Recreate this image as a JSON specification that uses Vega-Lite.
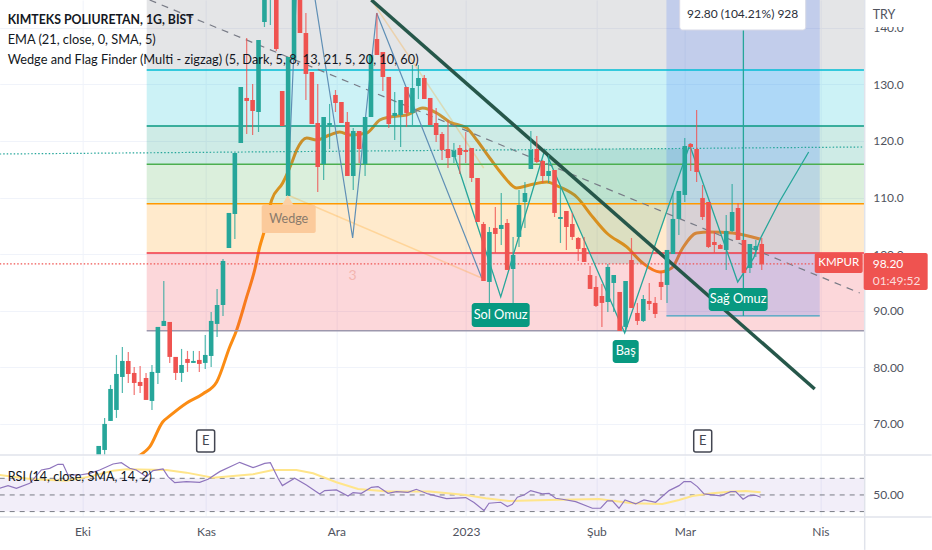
{
  "$schema": "https://vega.github.io/schema/vega-lite/v6.json",
  "padding": {"left": -4.3, "top": -1, "right": 0, "bottom": 0},
  "spacing": -1,
  "background": "white",
  "config": {
    "view": {"stroke": null},
    "text": {"font": "Lato"},
    "axis": {"labelFont": "Lato"}
  },
  "datasets": {
    "candles": [
      {"bar":0,"open":64.51,"high":66.1,"low":64.51,"close":66.1},
      {"bar":1,"open":65.39,"high":71.05,"low":64.33,"close":69.99},
      {"bar":2,"open":70.52,"high":76.88,"low":70.52,"close":76.17},
      {"bar":3,"open":72.46,"high":82.18,"low":71.05,"close":78.82},
      {"bar":4,"open":78.29,"high":83.59,"low":75.46,"close":81.12},
      {"bar":5,"open":81.12,"high":82.71,"low":77.23,"close":78.82},
      {"bar":6,"open":79.0,"high":80.06,"low":75.11,"close":77.23},
      {"bar":7,"open":77.41,"high":80.24,"low":75.46,"close":76.7},
      {"bar":8,"open":78.11,"high":79.0,"low":74.23,"close":74.23},
      {"bar":9,"open":74.05,"high":80.41,"low":72.46,"close":79.18},
      {"bar":10,"open":79.0,"high":87.13,"low":77.05,"close":87.13},
      {"bar":11,"open":87.3,"high":95.25,"low":87.3,"close":88.19},
      {"bar":12,"open":88.01,"high":88.01,"low":80.77,"close":81.83},
      {"bar":13,"open":81.83,"high":81.83,"low":77.76,"close":79.0},
      {"bar":14,"open":79.0,"high":83.24,"low":77.41,"close":80.41},
      {"bar":15,"open":81.47,"high":82.89,"low":79.18,"close":80.77},
      {"bar":16,"open":80.77,"high":82.89,"low":80.77,"close":81.12},
      {"bar":17,"open":81.3,"high":82.89,"low":79.18,"close":80.59},
      {"bar":18,"open":80.77,"high":85.71,"low":79.71,"close":82.18},
      {"bar":19,"open":82.0,"high":89.78,"low":80.06,"close":88.19},
      {"bar":20,"open":87.66,"high":93.84,"low":85.36,"close":91.01},
      {"bar":21,"open":91.01,"high":99.14,"low":89.07,"close":98.79},
      {"bar":22,"open":101.08,"high":107.27,"low":101.08,"close":107.27},
      {"bar":23,"open":107.09,"high":117.87,"low":102.67,"close":117.87},
      {"bar":24,"open":119.63,"high":129.53,"low":119.63,"close":129.53},
      {"bar":25,"open":127.59,"high":138.19,"low":121.22,"close":127.06},
      {"bar":26,"open":127.23,"high":130.06,"low":121.05,"close":125.29},
      {"bar":27,"open":125.11,"high":137.83,"low":121.58,"close":137.83},
      {"bar":28,"open":141.01,"high":147,"low":140.13,"close":146.67},
      {"bar":29,"open":146,"high":150.5,"low":140.48,"close":150},
      {"bar":30,"open":148,"high":149,"low":135.9,"close":136.24},
      {"bar":31,"open":128.82,"high":128.82,"low":122.64,"close":122.64},
      {"bar":32,"open":110.27,"high":134.83,"low":110.27,"close":134.83},
      {"bar":33,"open":134.3,"high":151,"low":134.3,"close":150},
      {"bar":34,"open":150,"high":151,"low":139.07,"close":139.07},
      {"bar":35,"open":139.07,"high":142.6,"low":127.23,"close":131.83},
      {"bar":36,"open":132.18,"high":132.18,"low":122.99,"close":122.99},
      {"bar":37,"open":123.17,"high":130.06,"low":110.98,"close":115.39},
      {"bar":38,"open":115.92,"high":124.23,"low":113.1,"close":124.23},
      {"bar":39,"open":122.81,"high":126.53,"low":118.57,"close":123.17},
      {"bar":40,"open":128.12,"high":129.0,"low":125.11,"close":126.7},
      {"bar":41,"open":126.88,"high":126.88,"low":123.17,"close":123.17},
      {"bar":42,"open":123.35,"high":125.11,"low":113.8,"close":113.8},
      {"bar":43,"open":113.8,"high":122.3,"low":111.33,"close":121.75},
      {"bar":44,"open":121.75,"high":121.75,"low":116.1,"close":118.57},
      {"bar":45,"open":115.92,"high":124.23,"low":113.8,"close":124.23},
      {"bar":46,"open":124.23,"high":135.18,"low":124.23,"close":135.18},
      {"bar":47,"open":138.01,"high":142.6,"low":135.18,"close":135.18},
      {"bar":48,"open":135.71,"high":135.71,"low":128.82,"close":131.3},
      {"bar":49,"open":131.3,"high":131.3,"low":122.28,"close":122.99},
      {"bar":50,"open":124.41,"high":128.65,"low":120.16,"close":124.94},
      {"bar":51,"open":124.58,"high":127.23,"low":118.93,"close":127.23},
      {"bar":52,"open":129.53,"high":129.53,"low":122.46,"close":124.94},
      {"bar":53,"open":124.94,"high":133.42,"low":122.81,"close":129.35},
      {"bar":54,"open":129.71,"high":133.42,"low":127.41,"close":131.12},
      {"bar":55,"open":131.12,"high":131.65,"low":127.41,"close":127.41},
      {"bar":56,"open":127.59,"high":127.59,"low":122.81,"close":122.81},
      {"bar":57,"open":123.17,"high":125.82,"low":119.81,"close":121.05},
      {"bar":58,"open":121.22,"high":121.58,"low":116.63,"close":118.4},
      {"bar":59,"open":118.57,"high":123.7,"low":115.22,"close":116.98},
      {"bar":60,"open":117.16,"high":119.63,"low":116.1,"close":118.22},
      {"bar":61,"open":118.75,"high":119.28,"low":114.16,"close":117.51},
      {"bar":62,"open":118.4,"high":121.58,"low":116.1,"close":118.04},
      {"bar":63,"open":118.75,"high":118.75,"low":112.74,"close":113.45},
      {"bar":64,"open":113.45,"high":113.45,"low":105.68,"close":105.68},
      {"bar":65,"open":105.32,"high":105.68,"low":95.25,"close":95.25},
      {"bar":66,"open":95.08,"high":104.79,"low":91.01,"close":103.91},
      {"bar":67,"open":104.62,"high":108.33,"low":100.2,"close":103.56},
      {"bar":68,"open":104.44,"high":110.8,"low":101.61,"close":105.15},
      {"bar":69,"open":105.5,"high":106.21,"low":97.2,"close":97.2},
      {"bar":70,"open":97.37,"high":103.03,"low":90.31,"close":99.85},
      {"bar":71,"open":103.03,"high":111.33,"low":101.26,"close":108.68},
      {"bar":72,"open":109.21,"high":112.74,"low":104.62,"close":110.8},
      {"bar":73,"open":115.04,"high":121.75,"low":115.04,"close":118.4},
      {"bar":74,"open":118.57,"high":120.87,"low":116.1,"close":116.28},
      {"bar":75,"open":116.45,"high":116.63,"low":112.57,"close":113.8},
      {"bar":76,"open":113.8,"high":117.51,"low":112.57,"close":114.69},
      {"bar":77,"open":114.86,"high":114.86,"low":106.56,"close":107.27},
      {"bar":78,"open":106.21,"high":111.68,"low":101.97,"close":106.56},
      {"bar":79,"open":107.62,"high":107.62,"low":100.73,"close":104.79},
      {"bar":80,"open":105.32,"high":107.27,"low":102.5,"close":103.03},
      {"bar":81,"open":102.85,"high":103.03,"low":98.79,"close":100.91},
      {"bar":82,"open":101.08,"high":103.03,"low":98.61,"close":98.61},
      {"bar":83,"open":96.31,"high":97.9,"low":93.84,"close":93.84},
      {"bar":84,"open":94.19,"high":96.14,"low":90.66,"close":90.84},
      {"bar":85,"open":92.6,"high":94.72,"low":87.13,"close":91.37},
      {"bar":86,"open":91.54,"high":98.26,"low":89.78,"close":97.73},
      {"bar":87,"open":94.9,"high":96.31,"low":89.78,"close":96.31},
      {"bar":88,"open":93.31,"high":93.31,"low":86.42,"close":86.42},
      {"bar":89,"open":87.13,"high":95.25,"low":86.24,"close":95.25},
      {"bar":90,"open":98.96,"high":102.85,"low":90.48,"close":90.48},
      {"bar":91,"open":89.6,"high":91.37,"low":87.48,"close":88.19},
      {"bar":92,"open":88.19,"high":92.78,"low":88.01,"close":92.07},
      {"bar":93,"open":91.72,"high":94.9,"low":90.13,"close":91.19},
      {"bar":94,"open":91.37,"high":92.43,"low":88.72,"close":89.42},
      {"bar":95,"open":95.08,"high":96.84,"low":91.9,"close":94.19},
      {"bar":96,"open":94.55,"high":100.73,"low":91.37,"close":100.73},
      {"bar":97,"open":100.02,"high":110.8,"low":100.02,"close":106.21},
      {"bar":98,"open":106.21,"high":111.15,"low":103.38,"close":111.15},
      {"bar":99,"open":110.45,"high":120.52,"low":109.21,"close":119.1},
      {"bar":100,"open":119.46,"high":119.63,"low":114.69,"close":118.93},
      {"bar":101,"open":118.57,"high":125.47,"low":112.74,"close":114.51},
      {"bar":102,"open":109.92,"high":112.21,"low":106.03,"close":106.56},
      {"bar":103,"open":109.21,"high":109.21,"low":101.08,"close":101.26},
      {"bar":104,"open":102.14,"high":104.09,"low":100.2,"close":101.61},
      {"bar":105,"open":101.61,"high":101.78,"low":100.91,"close":100.91},
      {"bar":106,"open":100.73,"high":106.91,"low":97.2,"close":104.09},
      {"bar":107,"open":104.09,"high":112.39,"low":103.91,"close":107.44},
      {"bar":108,"open":108.15,"high":109.03,"low":102.5,"close":102.5},
      {"bar":109,"open":102.5,"high":102.5,"low":96.67,"close":96.67},
      {"bar":110,"open":97.55,"high":101.79,"low":96.67,"close":101.79},
      {"bar":111,"open":100.73,"high":102.5,"low":99.49,"close":101.44},
      {"bar":112,"open":101.79,"high":102.85,"low":97.2,"close":98.2}
    ],
    "ema": [
      {"bar":6.76,"price":64.33},{"bar":8.61,"price":65.92},{"bar":10.81,"price":70.34},{"bar":11.99,"price":71.4},
      {"bar":14.86,"price":73.7},{"bar":17.57,"price":75.29},{"bar":19.93,"price":77.41},{"bar":22.13,"price":83.59},
      {"bar":23.31,"price":86.6},{"bar":25.0,"price":92.43},{"bar":26.35,"price":97.2},{"bar":27.2,"price":101.26},
      {"bar":28.04,"price":104.26},{"bar":29.22,"price":109.56},{"bar":31.08,"price":112.57},{"bar":32.6,"price":116.1},
      {"bar":33.45,"price":118.4},{"bar":35.14,"price":120.52},{"bar":36.82,"price":120.17},{"bar":39.02,"price":121.05},
      {"bar":40.71,"price":121.58},{"bar":42.4,"price":121.05},{"bar":45.27,"price":121.4},{"bar":47.47,"price":123.7},
      {"bar":49.16,"price":124.23},{"bar":52.03,"price":124.58},{"bar":54.73,"price":125.82},{"bar":57.09,"price":124.94},
      {"bar":59.29,"price":123.35},{"bar":62.16,"price":122.28},{"bar":63.85,"price":120.16},{"bar":66.05,"price":116.98},
      {"bar":68.24,"price":113.98},{"bar":70.61,"price":111.68},{"bar":72.8,"price":112.21},{"bar":75.68,"price":112.74},
      {"bar":77.87,"price":111.86},{"bar":80.74,"price":110.09},{"bar":83.45,"price":106.56},{"bar":85.81,"price":103.73},
      {"bar":89.19,"price":101.26},{"bar":91.89,"price":98.43},{"bar":94.76,"price":96.84},{"bar":96.79,"price":97.55},
      {"bar":98.65,"price":101.08},{"bar":101.01,"price":103.73},{"bar":103.21,"price":103.91},{"bar":107.09,"price":103.73},
      {"bar":111.66,"price":102.67}
    ],
    "bands": [
      {"level":"top","bar":8.11,"bar2":129.39,"price":146,"price2":132.53},
      {"level":"cyan","bar":8.11,"bar2":129.39,"price":132.53,"price2":122.64},
      {"level":"teal","bar":8.11,"bar2":129.39,"price":122.64,"price2":115.87},
      {"level":"green","bar":8.11,"bar2":129.39,"price":115.87,"price2":108.9},
      {"level":"orange","bar":8.11,"bar2":129.39,"price":108.9,"price2":100.2},
      {"level":"red","bar":8.11,"bar2":129.39,"price":100.2,"price2":86.47}
    ],
    "levels": [
      {"level":"cyan","bar":8.11,"bar2":129.39,"price":132.53},
      {"level":"teal","bar":8.11,"bar2":129.39,"price":122.64},
      {"level":"green","bar":8.11,"bar2":129.39,"price":115.87},
      {"level":"orange","bar":8.11,"bar2":129.39,"price":108.9},
      {"level":"red","bar":8.11,"bar2":129.39,"price":100.2},
      {"level":"base","bar":8.11,"bar2":129.39,"price":86.47}
    ],
    "position": [{"bar":95.9,"bar2":121.8,"price":146,"price2":89.07}],
    "neckline": [
      {"bar":75.34,"price":118.6,"price2":118.6},
      {"bar":83.75,"price":98.26,"price2":118.6},
      {"bar":92.9,"price":98.26,"price2":118.6},
      {"bar":99.49,"price":118.6,"price2":118.6}
    ],
    "wedge": [
      {"line":"lower","bar":31.93,"price":110.45},{"line":"lower","bar":64.7,"price":95.78},
      {"line":"upper","bar":44.93,"price":146.67},{"line":"upper","bar":65.03,"price":115.22}
    ],
    "zigzagBlue": [
      {"bar":31.93,"price":110.45},{"bar":33.78,"price":155.5},{"bar":34.97,"price":155.5},{"bar":42.9,"price":102.85},
      {"bar":46.96,"price":142.6},{"bar":64.7,"price":95.78}
    ],
    "zigzagTeal": [
      {"bar":59.8,"price":118.4},{"bar":67.91,"price":92.43},{"bar":75.34,"price":118.4},{"bar":88.85,"price":86.07},
      {"bar":99.83,"price":119.28},{"bar":107.94,"price":95.08},{"bar":111.82,"price":102.85},{"bar":110.64,"price":99.32},
      {"bar":114.86,"price":109.03},{"bar":119.93,"price":118.04}
    ],
    "trendDash": [{"bar":8.61,"price":144.9},{"bar":128.55,"price":93.13}],
    "trendThick": [{"bar":46.06,"price":144.9},{"bar":120.95,"price":76.17}],
    "dotTeal": [{"bar":-16.72,"price":117.69},{"bar":129.39,"price":118.93}],
    "dotRed": [{"bar":-16.72,"price":98.26},{"bar":129.39,"price":98.26}],
    "target": [{"bar":108.9,"price":139.6,"price2":89.07}],
    "stop": [{"bar":95.9,"bar2":121.8,"price":89.07}],
    "tagBoxes": [
      {"bar":63.01,"bar2":72.8,"price":91.37,"price2":87.13},
      {"bar":86.82,"bar2":91.22,"price":84.83,"price2":80.76},
      {"bar":103.04,"bar2":113.0,"price":94.02,"price2":89.95}
    ],
    "tagText": [
      {"label":"Sol Omuz","bar":67.9,"price":89.25},
      {"label":"Baş","bar":89.02,"price":82.8},
      {"label":"Sağ Omuz","bar":108.02,"price":92.0}
    ],
    "earnBoxes": [
      {"bar":16.55,"bar2":19.59,"price":68.93,"price2":65.04},
      {"bar":100.51,"bar2":103.55,"price":68.93,"price2":65.04}
    ],
    "earnText": [{"label":"E","bar":18.07,"price":67.0},{"label":"E","bar":102.03,"price":67.0}],
    "wedgeBox": [{"bar":27.53,"bar2":36.66,"price":108.68,"price2":103.73}],
    "wedgeText": [{"label":"Wedge","bar":32.1,"price":106.2}],
    "wedgeTip": [{"bar":31.93,"price":109.5}],
    "statBox": [{"bar":98.14,"bar2":119.43,"price":146,"price2":139.6}],
    "statText": [{"label":"92.80 (104.21%) 928","bar":108.78,"price":142.43}],
    "symbolBox": [{"bar":120.95,"bar2":129.05,"price":100.2,"price2":96.67}],
    "symbolText": [{"label":"KMPUR","bar":125,"price":98.43}],
    "priceBox": [{"bar":129.22,"bar2":140.03,"price":100.2,"price2":93.66}],
    "priceNow": [{"label":"98.20","bar":130.74,"price":98.26}],
    "priceTimer": [{"label":"01:49:52","bar":130.74,"price":95.25}],
    "cover": [{"bar":129.56,"bar2":140.7,"price":144.9,"price2":140.13}],
    "currency": [{"label":"TRY","bar":130.74,"price":142.25}],
    "faintCount": [{"label":"3","bar":42.9,"price":96.14}],
    "headerBold": [{"label":"KIMTEKS POLIURETAN, 1G, BIST","bar":-15.37,"price":141.37}],
    "header": [
      {"label":"EMA (21, close, 0, SMA, 5)","bar":-15.37,"price":137.83},
      {"label":"Wedge and Flag Finder (Multi - zigzag) (5, Dark, 5, 8, 13, 21, 5, 20, 10, 60)","bar":-15.37,"price":134.3}
    ],
    "paneEdges": [
      {"bar":129.39,"bar2":129.39,"price":144.9,"price2":64.5},
      {"bar":-16.72,"bar2":140.7,"price":64.5,"price2":64.5}
    ],
    "rsi": [
      {"bar":-16.72,"rsi":58},{"bar":-15.31,"rsi":61.2},{"bar":-13.9,"rsi":58},{"bar":-11.65,"rsi":64},{"bar":-9.68,"rsi":80},
      {"bar":-8.27,"rsi":82},{"bar":-6.87,"rsi":86.8},{"bar":-6.02,"rsi":86.8},{"bar":-5.18,"rsi":74},{"bar":-3.21,"rsi":74},
      {"bar":-1.52,"rsi":76},{"bar":0.17,"rsi":80},{"bar":2.42,"rsi":87.2},{"bar":3.83,"rsi":88.8},{"bar":5.24,"rsi":82},
      {"bar":6.37,"rsi":80},{"bar":8.05,"rsi":72},{"bar":9.18,"rsi":79.2},{"bar":10.87,"rsi":81.2},{"bar":11.71,"rsi":72},
      {"bar":12.84,"rsi":64.8},{"bar":14.81,"rsi":66},{"bar":17.06,"rsi":65.2},{"bar":18.47,"rsi":68.8},{"bar":20.44,"rsi":78},
      {"bar":23.82,"rsi":89.2},{"bar":26.07,"rsi":82.8},{"bar":28.04,"rsi":88},{"bar":29.0,"rsi":88.8},{"bar":30.3,"rsi":70},
      {"bar":31.03,"rsi":61.2},{"bar":33.11,"rsi":70},{"bar":35.08,"rsi":62},{"bar":37.33,"rsi":51.2},{"bar":38.18,"rsi":55.2},
      {"bar":40.15,"rsi":56},{"bar":42.12,"rsi":48.8},{"bar":42.97,"rsi":52.8},{"bar":44.37,"rsi":52},{"bar":46.06,"rsi":59.2},
      {"bar":47.19,"rsi":60},{"bar":48.88,"rsi":52},{"bar":50.28,"rsi":54},{"bar":52.25,"rsi":53.2},{"bar":53.66,"rsi":56.8},
      {"bar":55.63,"rsi":51.2},{"bar":58.73,"rsi":45.6},{"bar":62.0,"rsi":46.8},{"bar":63.4,"rsi":40.8},{"bar":65.09,"rsi":31.2},
      {"bar":65.93,"rsi":40},{"bar":67.9,"rsi":41.2},{"bar":69.03,"rsi":36},{"bar":69.87,"rsi":38.8},{"bar":70.72,"rsi":47.2},
      {"bar":71.84,"rsi":50},{"bar":72.97,"rsi":55.2},{"bar":74.94,"rsi":51.2},{"bar":76.07,"rsi":52},{"bar":77.19,"rsi":46},
      {"bar":78.32,"rsi":44.8},{"bar":80.57,"rsi":42},{"bar":83.39,"rsi":34},{"bar":84.79,"rsi":34},{"bar":85.92,"rsi":42.8},
      {"bar":86.77,"rsi":42.8},{"bar":87.89,"rsi":34},{"bar":88.9,"rsi":44},{"bar":90.71,"rsi":39.2},{"bar":92.11,"rsi":44},
      {"bar":94.08,"rsi":41.2},{"bar":96.34,"rsi":55.2},{"bar":98.03,"rsi":61.2},{"bar":98.87,"rsi":66},{"bar":100.0,"rsi":66},
      {"bar":101.12,"rsi":60},{"bar":102.25,"rsi":51.2},{"bar":105.06,"rsi":48.8},{"bar":106.75,"rsi":54},{"bar":107.6,"rsi":54},
      {"bar":108.84,"rsi":44.8},{"bar":109.74,"rsi":48.8},{"bar":110.98,"rsi":49.6},{"bar":111.82,"rsi":47.2}
    ],
    "rsiMa": [
      {"bar":-16.72,"rsi":74},{"bar":-13.9,"rsi":71.2},{"bar":-11.09,"rsi":68.8},{"bar":-5.46,"rsi":67.2},{"bar":-1.52,"rsi":72},
      {"bar":2.42,"rsi":79.2},{"bar":4.68,"rsi":80.8},{"bar":11.43,"rsi":80},{"bar":14.81,"rsi":76.8},{"bar":19.32,"rsi":70.8},
      {"bar":22.7,"rsi":72.8},{"bar":26.07,"rsi":74.8},{"bar":29.45,"rsi":80},{"bar":33.39,"rsi":80},{"bar":36.21,"rsi":76},
      {"bar":40.15,"rsi":65.2},{"bar":43.81,"rsi":57.2},{"bar":48.88,"rsi":54},{"bar":55.92,"rsi":54},{"bar":62.0,"rsi":50},
      {"bar":65.37,"rsi":46},{"bar":69.31,"rsi":42.8},{"bar":76.07,"rsi":44},{"bar":84.51,"rsi":45.2},{"bar":90.14,"rsi":40},
      {"bar":95.21,"rsi":39.2},{"bar":98.03,"rsi":44},{"bar":100.28,"rsi":48.8},{"bar":103.66,"rsi":52},{"bar":107.03,"rsi":54},
      {"bar":109.29,"rsi":54.8},{"bar":111.82,"rsi":53.2}
    ],
    "rsiBand": [{"bar":-16.72,"bar2":129.39,"rsi":70,"rsi2":30}],
    "rsiLines": [
      {"rsi":70,"bar":-16.72,"bar2":129.39},{"rsi":50,"bar":-16.72,"bar2":129.39},{"rsi":30,"bar":-16.72,"bar2":129.39}
    ],
    "rsiEdges": [
      {"bar":129.39,"bar2":129.39,"rsi":96.8,"rsi2":-16},
      {"bar":-16.72,"bar2":140.7,"rsi":23.5,"rsi2":23.5}
    ],
    "rsiHeader": [{"label":"RSI (14, close, SMA, 14, 2)","bar":-15.37,"rsi":71.5}]
  },
  "vconcat": [
    {
      "width": 865,
      "height": 455,
      "data": {"name": "candles"},
      "encoding": {
        "x": {
          "field": "bar", "type": "quantitative", "title": null,
          "scale": {"domain": [-16.72, 129.39], "nice": false, "zero": false, "padding": 0},
          "axis": {
            "values": [-2.75, 18.13, 40.15, 62.04, 84.07, 99.04, 121.91],
            "labels": false, "ticks": false, "domain": false, "grid": true, "gridColor": "#f0f3fa"
          }
        },
        "y": {
          "field": "price", "type": "quantitative", "title": null,
          "scale": {"domain": [64.5, 144.9], "nice": false, "zero": false},
          "axis": {
            "orient": "right",
            "values": [70, 80, 90, 100, 110, 120, 130, 140],
            "labelExpr": "datum.value >= 100 ? format(datum.value, '.1f') : format(datum.value, '.2f')",
            "labelColor": "#50535e", "labelFontSize": 12, "labelPadding": 8,
            "ticks": false, "domain": false, "grid": true, "gridColor": "#f0f3fa"
          }
        },
        "x2": {"field": "bar2"},
        "y2": {"field": "price2"}
      },
      "layer": [
        {
          "data": {"name": "ema"},
          "mark": {"type": "line", "color": "#fb8c14", "strokeWidth": 3, "interpolate": "monotone", "clip": true},
          "encoding": {"x2": null, "y2": null}
        },
        {
          "data": {"name": "bands"},
          "mark": {"type": "rect", "opacity": 0.2, "clip": true},
          "encoding": {
            "color": {
              "field": "level", "type": "nominal", "legend": null,
              "scale": {"domain": ["top", "cyan", "teal", "green", "orange", "red", "base"], "range": ["#787b86", "#00bcd4", "#089981", "#4caf50", "#ff9800", "#f23645", "#9d98ad"]}
            }
          }
        },
        {
          "data": {"name": "neckline"},
          "mark": {"type": "area", "color": "#089981", "opacity": 0.14},
          "encoding": {"x2": null}
        },
        {
          "data": {"name": "position"},
          "mark": {"type": "rect", "color": "#2962ff", "opacity": 0.18, "clip": true}
        },
        {
          "data": {"name": "wedge"},
          "mark": {"type": "line", "color": "#ff9800", "opacity": 0.25, "strokeWidth": 1.5, "clip": true},
          "encoding": {"detail": {"field": "line"}, "x2": null, "y2": null}
        },
        {
          "data": {"name": "levels"},
          "mark": {"type": "rule", "strokeWidth": 1.5},
          "encoding": {
            "y2": null,
            "color": {
              "field": "level", "type": "nominal", "legend": null,
              "scale": {"domain": ["top", "cyan", "teal", "green", "orange", "red", "base"], "range": ["#787b86", "#00bcd4", "#089981", "#4caf50", "#ff9800", "#f23645", "#9d98ad"]}
            }
          }
        },
        {
          "data": {"name": "trendDash"},
          "mark": {"type": "line", "color": "#787b86", "strokeWidth": 1.2, "strokeDash": [7, 6], "clip": true},
          "encoding": {"x2": null, "y2": null}
        },
        {
          "data": {"name": "dotTeal"},
          "mark": {"type": "line", "color": "#26a69a", "strokeWidth": 1.2, "strokeDash": [1.5, 2]},
          "encoding": {"x2": null, "y2": null}
        },
        {
          "data": {"name": "dotRed"},
          "mark": {"type": "line", "color": "#ef5350", "strokeWidth": 1.2, "strokeDash": [1.5, 2]},
          "encoding": {"x2": null, "y2": null}
        },
        {
          "data": {"name": "zigzagBlue"},
          "mark": {"type": "line", "color": "#5f8fb5", "strokeWidth": 1.2, "clip": true},
          "encoding": {"x2": null, "y2": null}
        },
        {
          "data": {"name": "zigzagTeal"},
          "mark": {"type": "line", "color": "#26a69a", "strokeWidth": 1.3, "clip": true},
          "encoding": {"x2": null, "y2": null}
        },
        {
          "data": {"name": "stop"},
          "mark": {"type": "rule", "color": "#3fa5c0", "strokeWidth": 1.3},
          "encoding": {"y2": null}
        },
        {
          "data": {"name": "target"},
          "mark": {"type": "rule", "color": "#26a69a", "strokeWidth": 1.3},
          "encoding": {"x2": null}
        },
        {
          "data": {"name": "trendThick"},
          "mark": {"type": "line", "color": "#26574a", "strokeWidth": 3.5, "clip": true},
          "encoding": {"x2": null, "y2": null}
        },
        {
          "mark": {"type": "rule", "strokeWidth": 1.2, "opacity": 0.8, "clip": true},
          "encoding": {
            "x2": null,
            "y": {
              "field": "low", "type": "quantitative", "title": null,
              "scale": {"domain": [64.5, 144.9], "nice": false, "zero": false},
              "axis": {
                "orient": "right",
                "values": [70, 80, 90, 100, 110, 120, 130, 140],
                "labelExpr": "datum.value >= 100 ? format(datum.value, '.1f') : format(datum.value, '.2f')",
                "labelColor": "#50535e", "labelFontSize": 12, "labelPadding": 8,
                "ticks": false, "domain": false, "grid": true, "gridColor": "#f0f3fa"
              }
            },
            "y2": {"field": "high"},
            "color": {"condition": {"test": "datum.close >= datum.open", "value": "#26a69a"}, "value": "#ef5350"}
          }
        },
        {
          "mark": {"type": "bar", "size": 4.6, "clip": true},
          "encoding": {
            "x2": null,
            "y": {
              "field": "open", "type": "quantitative", "title": null,
              "scale": {"domain": [64.5, 144.9], "nice": false, "zero": false},
              "axis": {
                "orient": "right",
                "values": [70, 80, 90, 100, 110, 120, 130, 140],
                "labelExpr": "datum.value >= 100 ? format(datum.value, '.1f') : format(datum.value, '.2f')",
                "labelColor": "#50535e", "labelFontSize": 12, "labelPadding": 8,
                "ticks": false, "domain": false, "grid": true, "gridColor": "#f0f3fa"
              }
            },
            "y2": {"field": "close"},
            "color": {"condition": {"test": "datum.close >= datum.open", "value": "#26a69a"}, "value": "#ef5350"}
          }
        },
        {
          "data": {"name": "wedgeTip"},
          "mark": {"type": "point", "shape": "triangle-up", "filled": true, "color": "#fbd0a4", "opacity": 1, "size": 150},
          "encoding": {"x2": null, "y2": null}
        },
        {
          "data": {"name": "wedgeBox"},
          "mark": {"type": "rect", "color": "#fbca9b", "cornerRadius": 2}
        },
        {
          "data": {"name": "wedgeText"},
          "mark": {"type": "text", "color": "#8a7a6c", "fontSize": 12.6},
          "encoding": {"x2": null, "y2": null, "text": {"field": "label"}}
        },
        {
          "data": {"name": "faintCount"},
          "mark": {"type": "text", "color": "#f3b5b0", "fontSize": 14},
          "encoding": {"x2": null, "y2": null, "text": {"field": "label"}}
        },
        {
          "data": {"name": "tagBoxes"},
          "mark": {"type": "rect", "color": "#089981", "cornerRadius": 3}
        },
        {
          "data": {"name": "tagText"},
          "mark": {"type": "text", "color": "white", "fontSize": 12.8},
          "encoding": {"x2": null, "y2": null, "text": {"field": "label"}}
        },
        {
          "data": {"name": "earnBoxes"},
          "mark": {"type": "rect", "color": "white", "stroke": "#434651", "strokeWidth": 1.5, "cornerRadius": 2}
        },
        {
          "data": {"name": "earnText"},
          "mark": {"type": "text", "color": "#434651", "fontSize": 13},
          "encoding": {"x2": null, "y2": null, "text": {"field": "label"}}
        },
        {
          "data": {"name": "statBox"},
          "mark": {"type": "rect", "color": "white", "cornerRadius": 3, "stroke": "#d8d9e6", "strokeWidth": 1, "clip": true}
        },
        {
          "data": {"name": "statText"},
          "mark": {"type": "text", "color": "#2a2e39", "fontSize": 12},
          "encoding": {"x2": null, "y2": null, "text": {"field": "label"}}
        },
        {
          "data": {"name": "cover"},
          "mark": {"type": "rect", "color": "white"}
        },
        {
          "data": {"name": "currency"},
          "mark": {"type": "text", "color": "#50535e", "fontSize": 12.5, "align": "left"},
          "encoding": {"x2": null, "y2": null, "text": {"field": "label"}}
        },
        {
          "data": {"name": "paneEdges"},
          "mark": {"type": "rule", "color": "#e0e3eb", "strokeWidth": 1.5}
        },
        {
          "data": {"name": "symbolBox"},
          "mark": {"type": "rect", "color": "#ef5350", "cornerRadius": 2}
        },
        {
          "data": {"name": "symbolText"},
          "mark": {"type": "text", "color": "white", "fontSize": 11.5},
          "encoding": {"x2": null, "y2": null, "text": {"field": "label"}}
        },
        {
          "data": {"name": "priceBox"},
          "mark": {"type": "rect", "color": "#ef5350", "cornerRadius": 2}
        },
        {
          "data": {"name": "priceNow"},
          "mark": {"type": "text", "color": "white", "fontSize": 12, "align": "left"},
          "encoding": {"x2": null, "y2": null, "text": {"field": "label"}}
        },
        {
          "data": {"name": "priceTimer"},
          "mark": {"type": "text", "color": "#fbdcdc", "fontSize": 12, "align": "left"},
          "encoding": {"x2": null, "y2": null, "text": {"field": "label"}}
        },
        {
          "data": {"name": "headerBold"},
          "mark": {"type": "text", "color": "#131722", "fontSize": 12.3, "fontWeight": "bold", "align": "left"},
          "encoding": {"x2": null, "y2": null, "text": {"field": "label"}}
        },
        {
          "data": {"name": "header"},
          "mark": {"type": "text", "color": "#131722", "fontSize": 12.8, "align": "left"},
          "encoding": {"x2": null, "y2": null, "text": {"field": "label"}}
        }
      ]
    },
    {
      "width": 865,
      "height": 61,
      "data": {"name": "rsi"},
      "encoding": {
        "x": {
          "field": "bar", "type": "quantitative", "title": null,
          "scale": {"domain": [-16.72, 129.39], "nice": false, "zero": false},
          "axis": {
            "values": [-2.75, 18.13, 40.15, 62.04, 84.07, 99.04, 121.91],
            "labelExpr": "['Eki', 'Kas', 'Ara', '2023', 'Şub', 'Mar', 'Nis'][indexof([-2.75, 18.13, 40.15, 62.04, 84.07, 99.04, 121.91], datum.value)]",
            "labelColor": "#50535e", "labelFontSize": 12, "labelPadding": 10,
            "ticks": false, "domain": false, "grid": true, "gridColor": "#f0f3fa"
          }
        },
        "y": {
          "field": "rsi", "type": "quantitative", "title": null,
          "scale": {"domain": [23.5, 96.8], "nice": false, "zero": false},
          "axis": {
            "orient": "right",
            "values": [50],
            "labelExpr": "format(datum.value, '.2f')",
            "labelColor": "#50535e", "labelFontSize": 12, "labelPadding": 8,
            "ticks": false, "domain": false, "grid": false
          }
        },
        "x2": {"field": "bar2"},
        "y2": {"field": "rsi2"}
      },
      "layer": [
        {
          "data": {"name": "rsiBand"},
          "mark": {"type": "rect", "color": "#7e57c2", "opacity": 0.1}
        },
        {
          "data": {"name": "rsiLines"},
          "mark": {"type": "rule", "color": "#787b86", "strokeWidth": 1, "strokeDash": [5, 5]},
          "encoding": {"y2": null}
        },
        {
          "data": {"name": "rsiMa"},
          "mark": {"type": "line", "color": "#ffe58a", "strokeWidth": 2},
          "encoding": {"x2": null, "y2": null}
        },
        {
          "mark": {"type": "line", "color": "#8f75bd", "strokeWidth": 1.2},
          "encoding": {"x2": null, "y2": null}
        },
        {
          "data": {"name": "rsiEdges"},
          "mark": {"type": "rule", "color": "#e0e3eb", "strokeWidth": 1.5}
        },
        {
          "data": {"name": "rsiHeader"},
          "mark": {"type": "text", "color": "#131722", "fontSize": 12.6, "align": "left"},
          "encoding": {"x2": null, "y2": null, "text": {"field": "label"}}
        }
      ]
    }
  ]
}
